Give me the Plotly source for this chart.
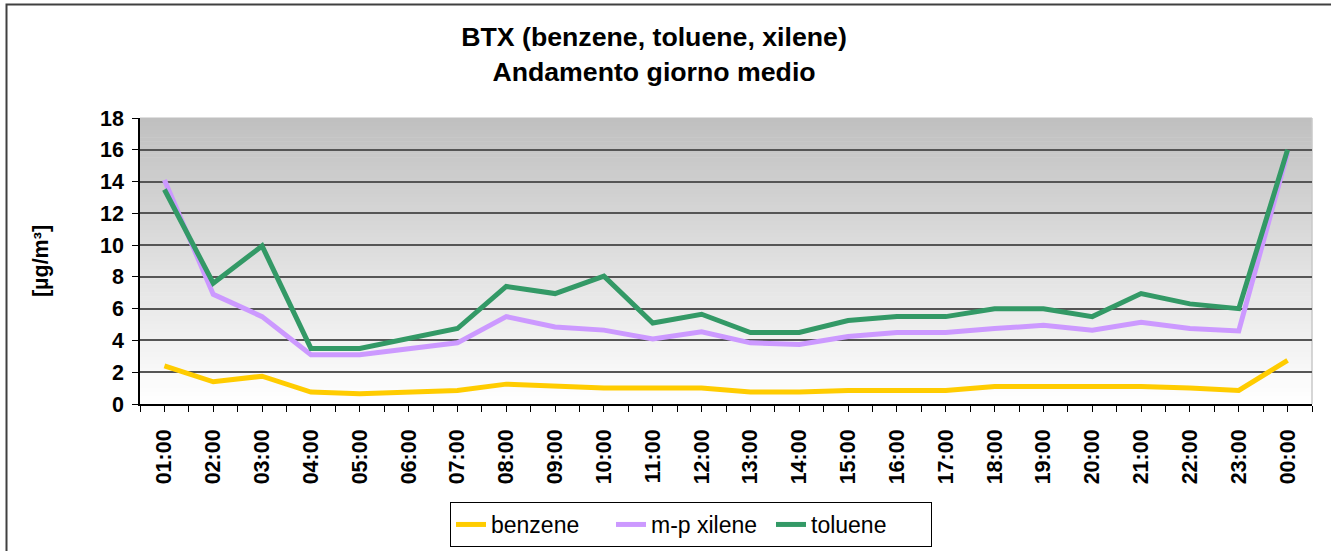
import plotly.graph_objects as go

hours = ["01:00", "02:00", "03:00", "04:00", "05:00", "06:00", "07:00", "08:00",
         "09:00", "10:00", "11:00", "12:00", "13:00", "14:00", "15:00", "16:00",
         "17:00", "18:00", "19:00", "20:00", "21:00", "22:00", "23:00", "00:00"]
benzene = [2.4, 1.4, 1.75, 0.75, 0.65, 0.75, 0.85, 1.25, 1.1, 1.0, 1.0, 1.0,
           0.75, 0.75, 0.85, 0.85, 0.85, 1.1, 1.1, 1.1, 1.1, 1.0, 0.85, 2.75]
xilene = [14.1, 6.9, 5.5, 3.1, 3.1, 3.5, 3.85, 5.5, 4.85, 4.65, 4.1, 4.55,
          3.85, 3.75, 4.25, 4.5, 4.5, 4.75, 4.95, 4.65, 5.15, 4.75, 4.6, 15.8]
toluene = [13.5, 7.6, 9.95, 3.5, 3.5, 4.1, 4.75, 7.4, 6.95, 8.05, 5.1, 5.65,
           4.5, 4.5, 5.25, 5.5, 5.5, 6.0, 6.0, 5.5, 6.95, 6.3, 6.0, 16.0]
y_ticks = [0, 2, 4, 6, 8, 10, 12, 14, 16, 18]

FONT = "Liberation Sans, Arial, sans-serif"
W, H = 1331, 551
L, R, T, B = 140, 19, 118, 147

xpos = list(range(len(hours)))

fig = go.Figure()
series = [("benzene", benzene, "#FFCC00"),
          ("m-p xilene", xilene, "#CC99FF"),
          ("toluene", toluene, "#339966")]
for name, vals, col in series:
    fig.add_trace(go.Scatter(x=xpos, y=vals, name=name, mode="lines",
                             line=dict(color=col, width=5)))

shapes = []
# gradient background of the plot area
N = 72
for i in range(N):
    f = i / (N - 1)
    c = int(round(255 - (255 - 192) * f))
    shapes.append(dict(type="rect", xref="x domain", yref="y domain",
                       x0=0, x1=1, y0=i / N, y1=(i + 1) / N + 0.002,
                       fillcolor=f"rgb({c},{c},{c})", line=dict(width=0),
                       layer="below"))
# right edge of plot area
shapes.append(dict(type="line", xref="x domain", yref="y domain", x0=1, x1=1,
                   y0=0, y1=1, line=dict(color="#C8C8C8", width=1.5), layer="below"))
# outer chart border (top and left visible)
pw, ph = W - L - R, H - T - B
shapes.append(dict(type="rect", xref="paper", yref="paper",
                   x0=(6.5 - L) / pw, x1=(W + 20 - L) / pw,
                   y0=-(H + 20 - (H - B)) / ph, y1=(H - B - 4.5) / ph,
                   line=dict(color="#404040", width=2), fillcolor="rgba(0,0,0,0)"))

fig.update_layout(
    width=W, height=H, autosize=False,
    margin=dict(l=L, r=R, t=T, b=B, autoexpand=False),
    paper_bgcolor="white", plot_bgcolor="white",
    font=dict(family=FONT, color="black"),
    title=dict(text="BTX (benzene, toluene, xilene)<br>Andamento giorno medio",
               x=654 / W, xanchor="center", y=1 - 46 / H, yanchor="top",
               font=dict(size=26.7, weight="bold", family=FONT, color="black")),
    showlegend=True,
    legend=dict(orientation="h", xref="container", yref="container",
                x=691 / W, xanchor="center",
                y=1 - 547 / H, yanchor="bottom",
                entrywidth=115, entrywidthmode="pixels",
                bordercolor="black", borderwidth=1, bgcolor="white",
                font=dict(size=23, family=FONT, color="black")),
    shapes=shapes,
)
fig.update_xaxes(
    range=[-0.5, len(hours) - 0.5], tickmode="array", tickvals=xpos, ticktext=hours,
    tickangle=-90, ticks="outside", ticklen=6, tickcolor="black", tickwidth=1,
    ticklabelstandoff=9, automargin=False,
    showline=True, linecolor="black", linewidth=1.5, showgrid=False, zeroline=False,
    tickfont=dict(size=21.5, weight="bold", family=FONT, color="black"),
    minor=dict(tickmode="array", tickvals=[i - 0.5 for i in range(len(hours) + 1)],
               ticks="outside", ticklen=6, tickcolor="black", tickwidth=1, showgrid=False),
    fixedrange=True,
)
fig.update_yaxes(
    range=[0, 18], tickmode="array", tickvals=y_ticks,
    ticks="outside", ticklen=6, tickcolor="black", tickwidth=1,
    ticklabelstandoff=4, automargin=False,
    showline=True, linecolor="black", linewidth=1.5,
    showgrid=True, gridcolor="#555555", gridwidth=1.5, zeroline=False,
    tickfont=dict(size=21.5, weight="bold", family=FONT, color="black"),
    title=dict(text="[µg/m³]", standoff=46,
               font=dict(size=21.5, weight="bold", family=FONT, color="black")),
    fixedrange=True,
)

fig.write_html("out.html", config={"displayModeBar": False},
               post_script="document.body.style.margin='0';document.body.style.overflow='hidden';")
